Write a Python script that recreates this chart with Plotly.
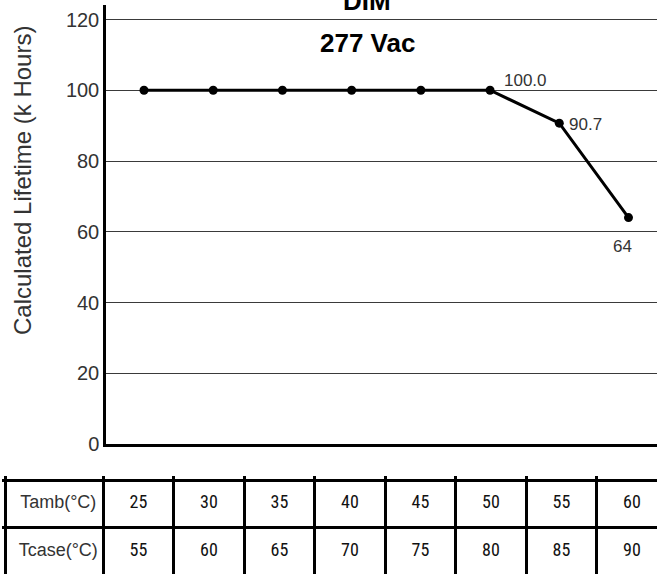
import plotly.graph_objects as go

# ---------------- data ----------------
tamb = [25, 30, 35, 40, 45, 50, 55, 60]
tcase = [55, 60, 65, 70, 75, 80, 85, 90]
lifetime = [100, 100, 100, 100, 100, 100, 90.7, 64]
point_labels = ["", "", "", "", "", "100.0", "90.7", "64"]
y_ticks = [0, 20, 40, 60, 80, 100, 120]
row_labels = ["Tamb(°C)", "Tcase(°C)"]
title_lines = ["DIM", "277 Vac"]
y_title = "Calculated Lifetime (k Hours)"

# ---------------- layout helpers (pixels -> paper) ----------------
W, H = 657, 574
ml, mr, mt, mb = 2, 0, 5, 0
pw = W - ml - mr
ph = H - mt - mb


def px_x(p):
    return (p - ml) / pw


def px_y(p):
    return (H - mb - p) / ph


# main plot geometry
plot_left_px, plot_bottom_px, plot_top_px = 106, 444, 5
x_px_per_deg = (628.5 - 144) / (tamb[-1] - tamb[0])
x_lo = tamb[0] - (144 - plot_left_px) / x_px_per_deg
x_hi = x_lo + (W - plot_left_px) / x_px_per_deg
y_px_per_unit = 3.5375
y_hi = (plot_bottom_px - plot_top_px) / y_px_per_unit

# table geometry
col_w = 70.5
col0_center_px = 138.5
row_h = 47.5
table_top_px = 480
t_x_lo = (ml - col0_center_px) / col_w
t_x_hi = (W - col0_center_px) / col_w
t_y_top = (table_top_px - 4 - table_top_px) / row_h
t_y_bot = (H - table_top_px) / row_h
n_cols = len(tamb)
col_bounds = [(5.5 - col0_center_px) / col_w] + [i - 0.5 for i in range(n_cols)]
label_col_center = ((5.5 + 103) / 2 + 4 - col0_center_px) / col_w

fig = go.Figure()

fig.add_trace(go.Scatter(
    x=tamb, y=lifetime, mode="lines+markers",
    line=dict(color="black", width=3),
    marker=dict(color="black", size=9),
    cliponaxis=False, showlegend=False, hoverinfo="skip",
    xaxis="x", yaxis="y",
))

# table text
fig.add_trace(go.Scatter(
    x=[label_col_center] * len(row_labels), y=[0.5, 1.5],
    mode="text", text=row_labels, textposition="middle center",
    textfont=dict(family="Liberation Sans, Arial", size=18, color="#333333"),
    showlegend=False, hoverinfo="skip", xaxis="x2", yaxis="y2",
))
fig.add_trace(go.Scatter(
    x=list(range(n_cols)) * 2, y=[0.5] * n_cols + [1.5] * n_cols,
    mode="text", text=[str(v) for v in tamb + tcase], textposition="middle center",
    textfont=dict(family="Liberation Sans Narrow, Roboto Condensed, Roboto", size=18, color="#111111"),
    showlegend=False, hoverinfo="skip", xaxis="x2", yaxis="y2",
))

annotations = []
# data labels
label_style = {
    "100.0": dict(xanchor="left", yanchor="middle", xshift=12, yshift=10),
    "90.7": dict(xanchor="left", yanchor="middle", xshift=8, yshift=-1),
    "64": dict(xanchor="center", yanchor="middle", xshift=-6, yshift=-29),
}
for xv, yv, t in zip(tamb, lifetime, point_labels):
    if not t:
        continue
    annotations.append(dict(
        x=xv, y=yv, xref="x", yref="y", text=t, showarrow=False,
        font=dict(family="Liberation Sans, Arial", size=17, color="#333333"),
        **label_style[t],
    ))

# titles
annotations.append(dict(
    x=px_x(367), y=px_y(0.5), xref="paper", yref="paper", text="<b>%s</b>" % title_lines[0],
    showarrow=False, xanchor="center", yanchor="middle",
    font=dict(family="Liberation Sans, Arial", size=26, color="black"),
))
annotations.append(dict(
    x=px_x(367), y=px_y(43), xref="paper", yref="paper", text="<b>%s</b>" % title_lines[1],
    showarrow=False, xanchor="center", yanchor="middle",
    font=dict(family="Liberation Sans, Arial", size=26, color="black"),
))
annotations.append(dict(
    x=px_x(22), y=px_y(181), xref="paper", yref="paper", text=y_title,
    showarrow=False, xanchor="center", yanchor="middle", textangle=-90,
    font=dict(family="Liberation Sans, Arial", size=24, color="#333333"),
))

fig.update_layout(
    width=W, height=H,
    margin=dict(l=ml, r=mr, t=mt, b=mb, pad=0),
    paper_bgcolor="white", plot_bgcolor="white",
    showlegend=False,
    annotations=annotations,
    xaxis=dict(
        domain=[px_x(plot_left_px), 1], range=[x_lo, x_hi], anchor="y",
        showgrid=False, zeroline=False, showticklabels=False, ticks="",
        showline=True, linecolor="black", linewidth=3, fixedrange=True,
    ),
    yaxis=dict(
        domain=[px_y(plot_bottom_px), 1], range=[0, y_hi], anchor="x",
        tickmode="array", tickvals=y_ticks, ticktext=[str(v) for v in y_ticks],
        tickfont=dict(family="Liberation Sans, Arial", size=20, color="#333333"),
        showgrid=True, gridcolor="#3a3a3a", gridwidth=1,
        zeroline=False, ticks="", showline=True, linecolor="black", linewidth=2.5,
        automargin=False, fixedrange=True,
    ),
    xaxis2=dict(
        domain=[0, 1], range=[t_x_lo, t_x_hi], anchor="y2",
        tickmode="array", tickvals=col_bounds, showticklabels=False, ticks="",
        showgrid=True, gridcolor="black", gridwidth=3, zeroline=False, showline=False,
        fixedrange=True,
    ),
    yaxis2=dict(
        domain=[0, px_y(table_top_px - 4)], range=[t_y_bot, t_y_top], anchor="x2",
        tickmode="array", tickvals=[0, 1, 2], showticklabels=False, ticks="",
        showgrid=True, gridcolor="black", gridwidth=3, zeroline=False, showline=False,
        fixedrange=True,
    ),
)

fig.write_html(
    "out.html",
    config={"displayModeBar": False},
    post_script="document.body.style.margin='0px';document.body.style.overflow='hidden';",
)
